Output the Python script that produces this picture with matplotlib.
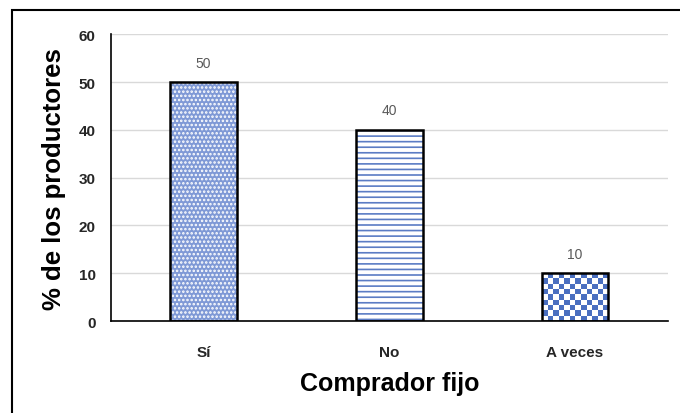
import numpy as np
import matplotlib.pyplot as plt
from matplotlib.patches import Rectangle

plt.rcParams['font.family'] = ['Liberation Sans', 'DejaVu Sans']
plt.rcParams['hatch.linewidth'] = 1.2

categorias = ['Sí', 'No', 'A veces']
porcentajes = [50, 40, 10]

fig = plt.figure(figsize=(6.8, 4.14), dpi=100)
ax = fig.add_axes([0.163, 0.222, 0.819, 0.693])

x = np.arange(len(categorias))
ancho = 0.36

# Sí: fondo azul con puntos blancos
b1 = ax.bar(x[0], porcentajes[0], ancho, color='#7f99d6', edgecolor='white',
            hatch='....', linewidth=0, zorder=2)
# No: rayas horizontales azules
b2 = ax.bar(x[1], porcentajes[1], ancho, color='white', edgecolor='#5b7cc4',
            hatch='---', linewidth=0, zorder=2)
# A veces: tablero de ajedrez
b3 = ax.bar(x[2], porcentajes[2], ancho, color='white', linewidth=0, zorder=2)
r = b3[0]
ncx, ncy = 12, 9
tablero = (np.add.outer(np.arange(ncy), np.arange(ncx)) % 2).astype(float)
img = ax.imshow(tablero, cmap=plt.matplotlib.colors.ListedColormap(['white', '#4a6fc0']),
                extent=(r.get_x(), r.get_x() + r.get_width(), 0, r.get_height()),
                aspect='auto', interpolation='nearest', zorder=2)
img.set_clip_path(r)

# bordes negros
ax.bar(x, porcentajes, ancho, fill=False, edgecolor='black', linewidth=1.8, zorder=3)

for xi, v in zip(x, porcentajes):
    ax.annotate(str(v), (xi, v), xytext=(0, 9), textcoords='offset points',
                ha='center', va='bottom', fontsize=10, color='#595959')

ax.set_xlim(-0.5, 2.5)
ax.set_ylim(0, 60)
ax.set_yticks(range(0, 61, 10))
ax.set_xticks(x)
ax.set_xticklabels(categorias)
ax.tick_params(axis='both', length=0, labelsize=11, labelcolor='#262626')
ax.tick_params(axis='x', pad=17)
ax.tick_params(axis='y', pad=11)
for lab in ax.get_xticklabels() + ax.get_yticklabels():
    lab.set_fontweight('bold')

ax.grid(axis='y', color='#d9d9d9', linewidth=1, zorder=0)
ax.set_axisbelow(True)
for s in ['top', 'right']:
    ax.spines[s].set_visible(False)
for s in ['left', 'bottom']:
    ax.spines[s].set_color('black')
    ax.spines[s].set_linewidth(1.2)

ax.set_xlabel('Comprador fijo', fontsize=18, fontweight='bold', labelpad=9)
ax.set_ylabel('% de los productores', fontsize=18.5, fontweight='bold', labelpad=9)

borde = Rectangle((12 / 680, -0.1), 1.0, 1 - 11 / 414 + 0.1, transform=fig.transFigure,
                  fill=False, edgecolor='black', linewidth=1.5, clip_on=False)
fig.patches.append(borde)

fig.savefig('out.png', dpi=100)
